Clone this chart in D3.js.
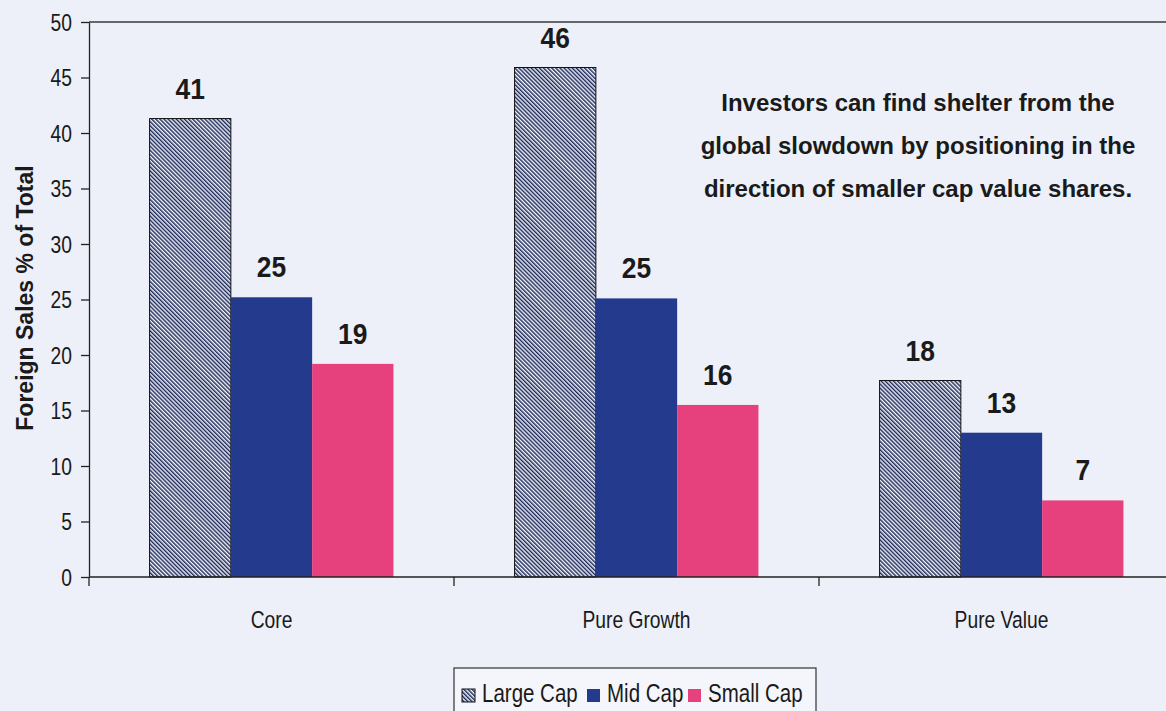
<!DOCTYPE html>
<html>
<head>
<meta charset="utf-8">
<script src="https://cdn.jsdelivr.net/npm/d3@7"></script>
<style>
  html, body { margin: 0; padding: 0; background: #edf0f8; }
  svg { display: block; }
  text { font-family: "Liberation Sans", Arial, sans-serif; }
</style>
</head>
<body>
<svg id="chart" width="1166" height="711"></svg>
<script>
// Foreign sales as a share of total, by style and market-cap segment
const categories = ["Core", "Pure Growth", "Pure Value"];
const seriesNames = ["Large Cap", "Mid Cap", "Small Cap"];
const largeCap = [41.3, 45.9, 17.7];
const midCap = [25.2, 25.1, 13.0];
const smallCap = [19.2, 15.5, 6.9];
const yTicks = [0, 5, 10, 15, 20, 25, 30, 35, 40, 45, 50];
const noteLines = [
  "Investors can find shelter from the",
  "global slowdown by positioning in the",
  "direction of smaller cap value shares."
];

const seriesValues = [largeCap, midCap, smallCap];
const rows = categories.map((c, i) => ({
  category: c,
  values: seriesNames.map((s, j) => ({ series: s, value: seriesValues[j][i] }))
}));

// condensed lettering: horizontal squeeze of the sans face
const narrowAt = (x, y, sx = 0.82) => `translate(${x},${y}) scale(${sx},1)`;

const svg = d3.select("#chart");
const plotLeft = 89, plotTop = 22, plotBottom = 577, plotRight = 1184;

const defs = svg.append("defs");
const hatch = defs.append("pattern")
  .attr("id", "hatch")
  .attr("patternUnits", "userSpaceOnUse")
  .attr("width", 2.9).attr("height", 10)
  .attr("patternTransform", "rotate(-45)");
hatch.append("rect").attr("width", 2.9).attr("height", 10).attr("fill", "#f4f6fb");
hatch.append("rect").attr("width", 1.45).attr("height", 10).attr("fill", "#1c2858");

const fills = { "Large Cap": "url(#hatch)", "Mid Cap": "#243a8c", "Small Cap": "#e6407d" };

const x0 = d3.scaleBand().domain(categories).range([plotLeft, plotRight]);
const x1 = d3.scaleBand().domain(seriesNames).range([0, x0.bandwidth()]).paddingOuter(0.745);
const y = d3.scaleLinear().domain([0, 50]).range([plotBottom, plotTop]);

// plot frame top edge
svg.append("line")
  .attr("x1", plotLeft).attr("x2", plotRight).attr("y1", plotTop).attr("y2", plotTop)
  .attr("stroke", "#3a3a3a").attr("stroke-width", 1.5);

// bars
const groups = svg.append("g").selectAll("g").data(rows).join("g")
  .attr("transform", d => `translate(${x0(d.category)},0)`);

groups.selectAll("rect").data(d => d.values).join("rect")
  .attr("x", d => x1(d.series))
  .attr("y", d => y(d.value))
  .attr("width", x1.bandwidth())
  .attr("height", d => y(0) - y(d.value))
  .attr("fill", d => fills[d.series])
  .attr("stroke", d => d.series === "Large Cap" ? "#111" : "none")
  .attr("stroke-width", 1);

groups.selectAll("text").data(d => d.values).join("text")
  .attr("transform", d => narrowAt(x1(d.series) + x1.bandwidth() / 2, y(d.value) - 20, 0.88))
  .attr("text-anchor", "middle")
  .attr("font-size", 30).attr("font-weight", "bold").attr("fill", "#1a1a1a")
  .text(d => d3.format(".0f")(d.value));

// y axis
const yAxis = svg.append("g")
  .attr("transform", `translate(${plotLeft},0)`)
  .call(d3.axisLeft(y).tickValues(yTicks).tickSize(8).tickPadding(9).tickSizeOuter(0));
yAxis.select(".domain").attr("stroke", "#222").attr("stroke-width", 1.3);
yAxis.selectAll(".tick line").attr("stroke", "#222").attr("stroke-width", 1.3);
yAxis.selectAll(".tick text")
  .attr("x", null)
  .attr("transform", narrowAt(-17, 0))
  .attr("font-family", "Liberation Sans, Arial, sans-serif")
  .attr("font-size", 23.5).attr("fill", "#1a1a1a")
  .attr("dy", "0.36em");

// x axis with ticks on category boundaries
const xAxis = svg.append("g").attr("transform", `translate(0,${plotBottom})`);
xAxis.append("line")
  .attr("x1", plotLeft).attr("x2", plotRight)
  .attr("stroke", "#222").attr("stroke-width", 1.5);
xAxis.selectAll("line.sep").data(categories.concat([null])).join("line")
  .attr("class", "sep")
  .attr("x1", (d, i) => plotLeft + i * x0.step()).attr("x2", (d, i) => plotLeft + i * x0.step())
  .attr("y1", 0).attr("y2", 9)
  .attr("stroke", "#222").attr("stroke-width", 1.3);
xAxis.selectAll("text").data(categories).join("text")
  .attr("transform", d => narrowAt(x0(d) + x0.bandwidth() / 2, 51))
  .attr("text-anchor", "middle")
  .attr("font-size", 23.5).attr("fill", "#1a1a1a")
  .text(d => d);

// y axis title
svg.append("text")
  .attr("transform", "translate(33,298) rotate(-90)")
  .attr("text-anchor", "middle")
  .attr("font-size", 23).attr("font-weight", "bold").attr("fill", "#1a1a1a")
  .text("Foreign Sales % of Total");

// annotation
svg.append("text")
  .attr("text-anchor", "middle")
  .attr("font-size", 24).attr("font-weight", "bold").attr("fill", "#1a1a1a")
  .selectAll("tspan").data(noteLines).join("tspan")
  .attr("x", 918)
  .attr("y", (d, i) => 111 + i * 43)
  .text(d => d);

// legend
const legend = svg.append("g").attr("transform", "translate(454,668)");
legend.append("rect")
  .attr("width", 362).attr("height", 50)
  .attr("fill", "#f4f6fb").attr("stroke", "#333").attr("stroke-width", 1.2);
const swatchX = [8, 133, 234];
const items = legend.selectAll("g.item").data(seriesNames).join("g")
  .attr("class", "item")
  .attr("transform", (d, i) => `translate(${swatchX[i]},0)`);
items.append("rect")
  .attr("y", 21)
  .attr("width", 13).attr("height", 13)
  .attr("fill", d => fills[d])
  .attr("stroke", d => d === "Large Cap" ? "#111" : "none");
items.append("text")
  .attr("transform", narrowAt(20, 34))
  .attr("font-size", 25).attr("fill", "#1a1a1a")
  .text(d => d);
</script>
</body>
</html>
